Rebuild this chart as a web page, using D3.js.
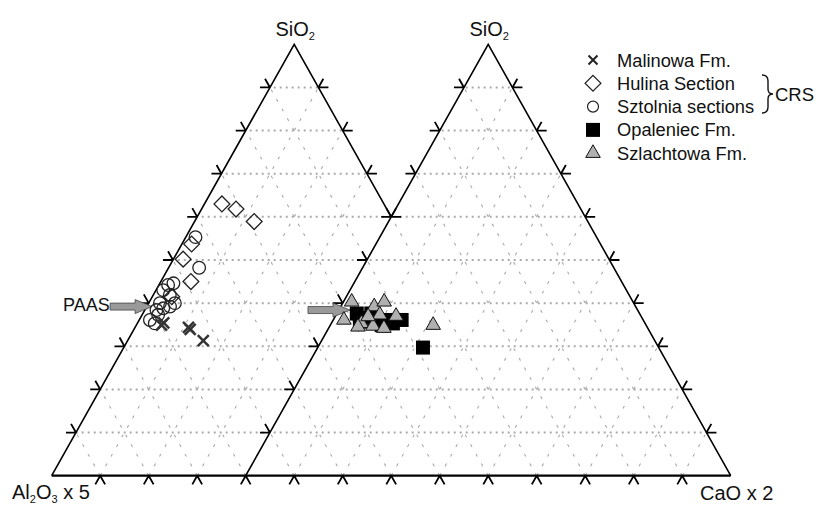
<!DOCTYPE html>
<html>
<head>
<meta charset="utf-8">
<script src="https://cdn.jsdelivr.net/npm/d3@7"></script>
<style>
  body { margin: 0; background: #fff; }
  svg text { font-family: "Liberation Sans", Arial, sans-serif; fill: #111; }
</style>
</head>
<body>
<svg id="chart" width="816" height="505"></svg>
<script>
// left triangle values: [SiO2, Al2O3 x 5] (third apex = 100 - both)
const malinowa = [[34.9, 59.9], [35.4, 59.2], [34.4, 54.6], [33.9, 54.5], [31.3, 53.1]];
const hulina = [[63.0, 33.4], [61.8, 31.1], [58.9, 28.8], [53.7, 44.3], [50.2, 47.8], [45.0, 48.8], [41.5, 54.5]];
const sztolnia = [[55.3, 42.7], [48.2, 45.5], [44.2, 53.9], [44.6, 52.6], [43.0, 55.5], [41.9, 54.7], [40.0, 54.6],
  [40.0, 57.7], [38.4, 59.2], [38.8, 57.6], [36.1, 61.7], [37.3, 59.4], [39.2, 56.0], [35.3, 61.1]];
// right triangle values: [SiO2, CaO x 2]
const opaleniec = [[37.6, 4.1], [35.7, 5.7], [37.6, 7.1], [36.1, 11.3], [36.1, 14.1], [34.9, 10.6], [35.3, 12.7],
  [29.7, 21.7], [36.6, 6.5]];
const szlachtowa = [[40.3, 1.7], [39.2, 6.9], [40.3, 8.4], [36.1, 2.2], [37.3, 9.0], [37.0, 12.5], [35.3, 6.2],
  [34.7, 8.9], [34.2, 11.4], [34.5, 5.9], [36.9, 6.8], [34.9, 21.2]];
// PAAS in the left triangle [SiO2, Al2O3 x 5] and right triangle [SiO2, CaO x 2]
const paasLeft = [39.2, 59.7];
const paasRight = [38.4, 2.3];
const tickValues = d3.range(10, 100, 10);
const baseTicks = d3.range(10, 140, 10);
const legendItems = ["Malinowa Fm.", "Hulina Section", "Sztolnia sections", "Opaleniec Fm.", "Szlachtowa Fm."];

const svg = d3.select("#chart");
svg.append("rect").attr("width", 816).attr("height", 505).attr("fill", "#fff");

// x in % of one triangle base (right triangle is shifted by 40), y in % SiO2
const x = d3.scaleLinear().domain([0, 140]).range([51.7, 730.7]);
const y = d3.scaleLinear().domain([0, 100]).range([475.7, 44.3]);
const leftPt = (t, a) => [x(100 - a - t / 2), y(t)];
const rightPt = (t, c) => [x(40 + c + t / 2), y(t)];

// union outline of both triangles
const outline = [leftPt(0, 100), leftPt(100, 0), leftPt(60, 0), rightPt(100, 0), rightPt(0, 100)];
svg.append("clipPath").attr("id", "clip")
  .append("polygon").attr("points", outline.map(p => p.join(",")).join(" "));

// grid
const grid = svg.append("g").attr("clip-path", "url(#clip)").attr("fill", "none").attr("stroke", "#aaa");
grid.selectAll("line.h").data(tickValues).join("line")
  .attr("x1", x(0)).attr("x2", x(140)).attr("y1", d => y(d)).attr("y2", d => y(d))
  .attr("stroke-width", 2).attr("stroke-dasharray", "2,4");
grid.selectAll("line.a").data(baseTicks).join("line")
  .attr("x1", d => x(d)).attr("y1", y(0)).attr("x2", d => x(d + 50)).attr("y2", y(100))
  .attr("stroke-width", 1.1).attr("stroke-dasharray", "3,8");
grid.selectAll("line.b").data(baseTicks).join("line")
  .attr("x1", d => x(d)).attr("y1", y(0)).attr("x2", d => x(d - 50)).attr("y2", y(100))
  .attr("stroke-width", 1.1).attr("stroke-dasharray", "3,8");

// triangle edges
const line = d3.line();
const axes = svg.append("g").attr("fill", "none").attr("stroke", "#000").attr("stroke-width", 1.6);
axes.append("path").attr("d", line([leftPt(0, 100), leftPt(100, 0), leftPt(60, 0)]));
axes.append("path").attr("d", line([rightPt(0, 0), rightPt(100, 0), rightPt(0, 100)]));
axes.append("path").attr("d", line([leftPt(0, 100), rightPt(0, 100)])).attr("stroke-width", 2.2);

// tick directions along the grid
const L = 10;
const up1 = (() => { const dx = x(50) - x(0), dy = y(100) - y(0), n = Math.hypot(dx, dy); return [dx / n, dy / n]; })();
const up2 = [-up1[0], up1[1]];
const tick = (p, dirs) => dirs.map(d => line([p, [p[0] + d[0] * L, p[1] + d[1] * L]])).join("");
const ticks = axes.append("g").attr("stroke-width", 1.8);
const leftDirs = [[-1, 0], up2], rightDirs = [[1, 0], up1], baseDirs = [[-up1[0], -up1[1]], [-up2[0], -up2[1]]];
ticks.selectAll("path.l1").data(tickValues).join("path").attr("d", t => tick(leftPt(t, 100 - t), leftDirs));
ticks.selectAll("path.l2").data(tickValues).join("path").attr("d", t => tick(rightPt(t, 0), leftDirs));
ticks.selectAll("path.r1").data(tickValues.filter(t => t >= 60)).join("path").attr("d", t => tick(leftPt(t, 0), rightDirs));
ticks.selectAll("path.r2").data(tickValues).join("path").attr("d", t => tick(rightPt(t, 100 - t), rightDirs));
ticks.selectAll("path.b").data(baseTicks).join("path").attr("d", v => tick([x(v), y(0)], baseDirs));

// PAAS arrows
function arrow(tip, len) {
  const [tx, ty] = tip, x0 = tx - len, hx = tx - 17;
  return line([[x0, ty - 3.5], [hx, ty - 3.5], [hx, ty - 7], [tx, ty], [hx, ty + 7], [hx, ty + 3.5], [x0, ty + 3.5]]) + "Z";
}
svg.append("g").attr("fill", "#9a9a9a").attr("stroke", "#444").attr("stroke-width", 0.8)
  .selectAll("path").data([leftPt(...paasLeft), rightPt(...paasRight)]).join("path")
  .attr("d", d => arrow(d, 42));
svg.append("text").attr("x", 63).attr("y", 311).attr("font-size", 18).text("PAAS");

// markers
const diamond = d3.symbol(d3.symbolSquare, 125);
const circle = d3.symbol(d3.symbolCircle, 125);
const square = d3.symbol(d3.symbolSquare, 196);
const tri = d3.symbol(d3.symbolTriangle, 92);
const cross = s => `M${-s},${-s}L${s},${s}M${-s},${s}L${s},${-s}`;

const pts = svg.append("g");
pts.selectAll("path.hul").data(hulina).join("path")
  .attr("d", diamond()).attr("transform", d => `translate(${leftPt(...d)}) rotate(45)`)
  .attr("fill", "none").attr("stroke", "#222").attr("stroke-width", 1.3);
pts.selectAll("path.szt").data(sztolnia).join("path")
  .attr("d", circle()).attr("transform", d => `translate(${leftPt(...d)})`)
  .attr("fill", "none").attr("stroke", "#222").attr("stroke-width", 1.3);
pts.selectAll("path.mal").data(malinowa).join("path")
  .attr("d", cross(5.5)).attr("transform", d => `translate(${leftPt(...d)})`)
  .attr("fill", "none").attr("stroke", "#333").attr("stroke-width", 2.5);
pts.selectAll("path.opa").data(opaleniec).join("path")
  .attr("d", square()).attr("transform", d => `translate(${rightPt(...d)})`)
  .attr("fill", "#000");
pts.selectAll("path.szl").data(szlachtowa).join("path")
  .attr("d", tri()).attr("transform", d => `translate(${rightPt(...d)})`)
  .attr("fill", "#b0b0b0").attr("stroke", "#111").attr("stroke-width", 1);

// axis labels with subscripts
function chem(sel, parts) {
  let shifted = false;
  parts.forEach(([s, sub]) => {
    sel.append("tspan").attr("dy", shifted ? -3.5 : 0).text(s);
    shifted = false;
    if (sub) { sel.append("tspan").attr("font-size", 11).attr("dy", 3.5).text(sub); shifted = true; }
  });
}
[leftPt(100, 0), rightPt(100, 0)].forEach(p => {
  const t = svg.append("text").attr("x", p[0] + 1).attr("y", 36).attr("text-anchor", "middle").attr("font-size", 20);
  chem(t, [["SiO", "2"]]);
});
chem(svg.append("text").attr("x", 12).attr("y", 499).attr("font-size", 20), [["Al", "2"], ["O", "3"], [" x 5"]]);
svg.append("text").attr("x", 700).attr("y", 500).attr("font-size", 20).text("CaO x 2");

// legend
const lg = svg.append("g").attr("transform", "translate(593,60)");
const rows = lg.selectAll("g").data(legendItems).join("g").attr("transform", (d, i) => `translate(0,${i * 23.3})`);
rows.append("text").attr("x", 24).attr("y", 6.5).attr("font-size", 18.3).text(d => d);
rows.filter((d, i) => i === 0).append("path").attr("d", cross(4.5)).attr("stroke", "#222").attr("stroke-width", 2);
rows.filter((d, i) => i === 1).append("path").attr("d", diamond()).attr("transform", "rotate(45)")
  .attr("fill", "none").attr("stroke", "#222").attr("stroke-width", 1.2);
rows.filter((d, i) => i === 2).append("path").attr("d", d3.symbol(d3.symbolCircle, 95)())
  .attr("fill", "none").attr("stroke", "#222").attr("stroke-width", 1.2);
rows.filter((d, i) => i === 3).append("path").attr("d", square()).attr("fill", "#000");
rows.filter((d, i) => i === 4).append("path").attr("d", tri()).attr("fill", "#b0b0b0").attr("stroke", "#111");

// CRS brace
svg.append("path")
  .attr("d", "M762,75 Q768,75 768,81 L768,89 Q768,94 773,94 Q768,94 768,99 L768,107 Q768,113 762,113")
  .attr("fill", "none").attr("stroke", "#111").attr("stroke-width", 1.4);
svg.append("text").attr("x", 775).attr("y", 101).attr("font-size", 18.5).text("CRS");
</script>
</body>
</html>
